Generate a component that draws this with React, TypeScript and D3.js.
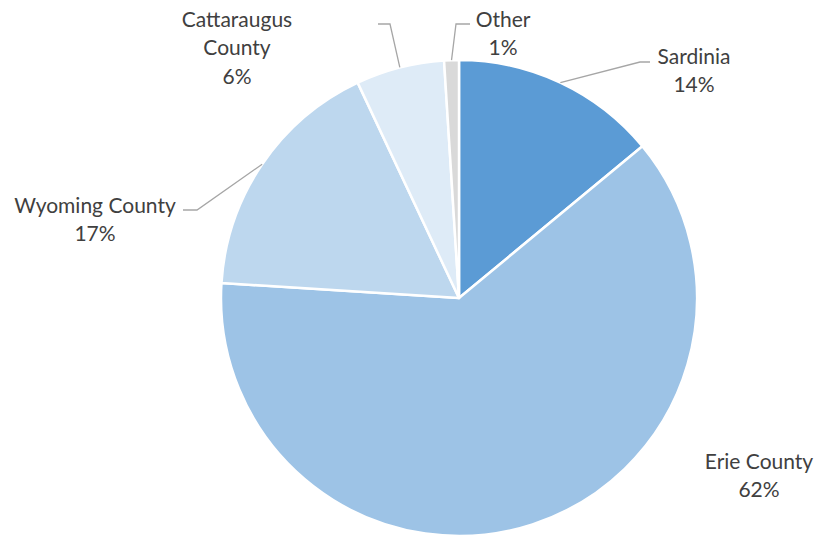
import * as React from "react";
import { pie as d3Pie, arc as d3Arc, PieArcDatum } from "d3";

const categories = ["Sardinia", "Erie County", "Wyoming County", "Cattaraugus County", "Other"];
const shares = [14, 62, 17, 6, 1];
const labelLines = [["Sardinia"], ["Erie County"], ["Wyoming County"], ["Cattaraugus", "County"], ["Other"]];

const colors = ["#5b9bd5", "#9dc3e6", "#bdd7ee", "#deebf7", "#d9d9d9"];

// label layout: text centre, first line y, and optional leader elbow / end
const labelLayout = [
  { x: 694, y: 55, elbow: [640, 62], end: [650, 62] },
  { x: 759, y: 460, elbow: null, end: null },
  { x: 95, y: 204, elbow: [197, 210], end: [183, 210] },
  { x: 237, y: 18, elbow: [390, 24], end: [378, 24] },
  { x: 503, y: 18, elbow: [456, 24], end: [470, 24] },
];

interface Slice {
  name: string;
  value: number;
  idx: number;
}

const App = () => {
  const W = 817;
  const H = 538;
  const cx = 459;
  const cy = 298;
  const r = 238;
  const lineH = 28.5;

  const data: Slice[] = categories.map((name, i) => ({ name, value: shares[i], idx: i }));
  const arcs = d3Pie<Slice>().value(d => d.value).sort(null)(data);
  const arc = d3Arc<PieArcDatum<Slice>>().innerRadius(0).outerRadius(r);

  return (
    <svg
      width={W}
      height={H}
      style={{ position: "absolute", left: 0, top: 0, background: "#fff" }}
      fontFamily="Lato, 'Open Sans', sans-serif"
    >
      <g transform={`translate(${cx},${cy})`}>
        {arcs.map(a => (
          <path
            key={a.data.name}
            d={arc(a) || ""}
            fill={colors[a.data.idx]}
            stroke="#fff"
            strokeWidth={2.5}
            strokeLinejoin="round"
          />
        ))}
      </g>
      {arcs.map(a => {
        const lay = labelLayout[a.data.idx];
        if (!lay.elbow || !lay.end) return null;
        const mid = (a.startAngle + a.endAngle) / 2;
        const sx = cx + r * Math.sin(mid);
        const sy = cy - r * Math.cos(mid);
        return (
          <polyline
            key={"l" + a.data.name}
            points={`${sx},${sy} ${lay.elbow[0]},${lay.elbow[1]} ${lay.end[0]},${lay.end[1]}`}
            fill="none"
            stroke="#a6a6a6"
            strokeWidth={1.3}
          />
        );
      })}
      {arcs.map(a => {
        const lay = labelLayout[a.data.idx];
        const lines = [...labelLines[a.data.idx], `${a.data.value}%`];
        return (
          <text
            key={"t" + a.data.name}
            textAnchor="middle"
            fill="#404040"
            fontSize={21}
          >
            {lines.map((s, j) => (
              <tspan key={j} x={lay.x} y={lay.y + j * lineH} dominantBaseline="central">
                {s}
              </tspan>
            ))}
          </text>
        );
      })}
    </svg>
  );
};

export default App;
